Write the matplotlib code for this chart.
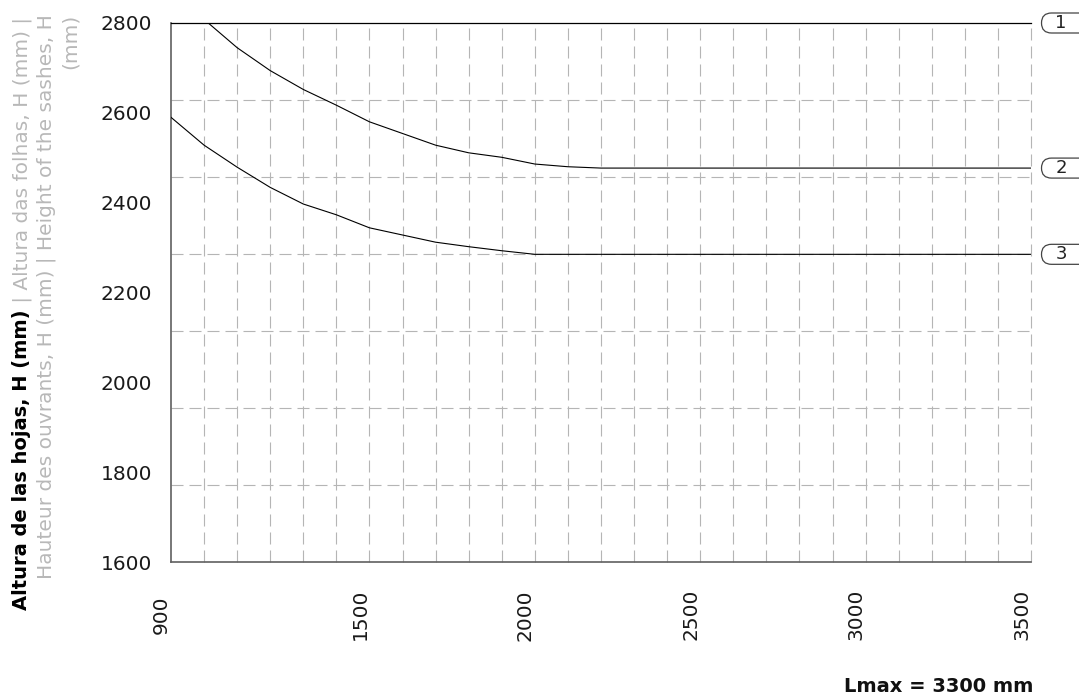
import matplotlib
matplotlib.use("Agg")
import matplotlib.pyplot as plt
from matplotlib.patches import FancyBboxPatch
from matplotlib.transforms import IdentityTransform
import numpy as np

# ---- data -------------------------------------------------------------
# sash width L (mm) and maximum sash height H (mm) for each limit curve
curve1_x = [900, 3500]
curve1_h = [2800, 2800]

curve2_x = [1000, 1100, 1200, 1300, 1400, 1500, 1600, 1700, 1800, 1900,
            2000, 2100, 2200, 3500]
curve2_h = [2808, 2745, 2694, 2652, 2617, 2580, 2554, 2528, 2511, 2501,
            2486, 2480, 2477, 2477]

curve3_x = [900, 1000, 1100, 1200, 1300, 1400, 1500, 1600, 1700, 1800,
            1900, 2000, 3500]
curve3_h = [2590, 2528, 2479, 2434, 2397, 2373, 2344, 2328, 2312, 2302,
            2293, 2285, 2285]

curve_labels = ["1", "2", "3"]

x_ticks = [900, 1500, 2000, 2500, 3000, 3500]
y_ticks = [1600, 1800, 2000, 2200, 2400, 2600, 2800]

# ---- figure -------------------------------------------------------------
W, H, DPI = 1079, 696, 100
FONT = "DejaVu Sans"
plt.rcParams["font.family"] = [FONT]

fig = plt.figure(figsize=(W / DPI, H / DPI), dpi=DPI)
left, right, top, bottom = 171, 1031, 23, 562
ax = fig.add_axes([left / W, 1 - bottom / H, (right - left) / W, (bottom - top) / H])

ax.set_xlim(900, 3500)
ax.set_ylim(1600, 2800)

ax.set_xticks(x_ticks)
ax.set_yticks(y_ticks)
ax.tick_params(which="both", length=0)

# dashed grid: a line every 100 mm across, seven bands down
grid_style = dict(color="#b5b5b5", linewidth=0.8, linestyle=(0, (10.8, 5.4)),
                  zorder=1, clip_on=False)
for gx in np.arange(1000, 3501, 100):
    ax.axvline(gx, **grid_style)
for gy in np.linspace(1600, 2800, 8)[1:-1]:
    ax.axhline(gy, **grid_style)

ax.tick_params(axis="y", pad=13.5, labelsize=14.5, labelcolor="#1a1a1a")
ax.tick_params(axis="x", pad=38, labelsize=14.5, labelcolor="#1a1a1a")
for lab in ax.get_xticklabels():
    lab.set_rotation(90)
    lab.set_ha("right")
    lab.set_va("center")

for side in ("top", "right"):
    ax.spines[side].set_visible(False)
for side in ("left", "bottom"):
    ax.spines[side].set_color("#606060")
    ax.spines[side].set_linewidth(1.2)

# curves
ax.plot(curve1_x, curve1_h, color="black", linewidth=0.9, clip_on=False, zorder=3)
ax.plot(curve2_x, curve2_h, color="black", linewidth=0.8, zorder=3)
ax.plot(curve3_x, curve3_h, color="black", linewidth=0.8, zorder=3)

# numbered pills at the right end of each curve
ends = [curve1_h[-1], curve2_h[-1], curve3_h[-1]]
for lab, h in zip(curve_labels, ends):
    _, py = ax.transData.transform((3500, h))
    box = FancyBboxPatch((1041.5, py - 10), 52, 20,
                         boxstyle="round,pad=0,rounding_size=10",
                         transform=IdentityTransform(),
                         facecolor="white", edgecolor="#444444", linewidth=0.9)
    fig.patches.append(box)
    fig.text(1061 / W, py / H, lab, ha="center", va="center",
             fontsize=13, color="#222222")

# y-axis title, three rotated lines
fig.canvas.draw()
renderer = fig.canvas.get_renderer()
t_bold = fig.text(27 / W, 1 - 610 / H, "Altura de las hojas, H (mm)",
                  rotation=90, rotation_mode="anchor", ha="left", va="baseline",
                  fontsize=14, fontweight="bold", color="black")
ext = t_bold.get_window_extent(renderer)
fig.text(27 / W, (ext.y1 + 1) / H, " | Altura das folhas, H (mm) |",
         rotation=90, rotation_mode="anchor", ha="left", va="baseline",
         fontsize=14.5, color="#b8b8b8")
fig.text(52 / W, 1 - 14 / H, "Hauteur des ouvrants, H (mm) | Height of the sashes, H",
         rotation=90, rotation_mode="anchor", ha="right", va="baseline",
         fontsize=14.5, color="#b8b8b8")
fig.text(76 / W, 1 - 14 / H, "(mm)",
         rotation=90, rotation_mode="anchor", ha="right", va="baseline",
         fontsize=14.5, color="#b8b8b8")

# footnote
fig.text(1033 / W, 1 - 692 / H, "Lmax = 3300 mm", ha="right", va="baseline",
         fontsize=14, fontweight="semibold", color="#111111")

fig.savefig("out.png", dpi=DPI)
